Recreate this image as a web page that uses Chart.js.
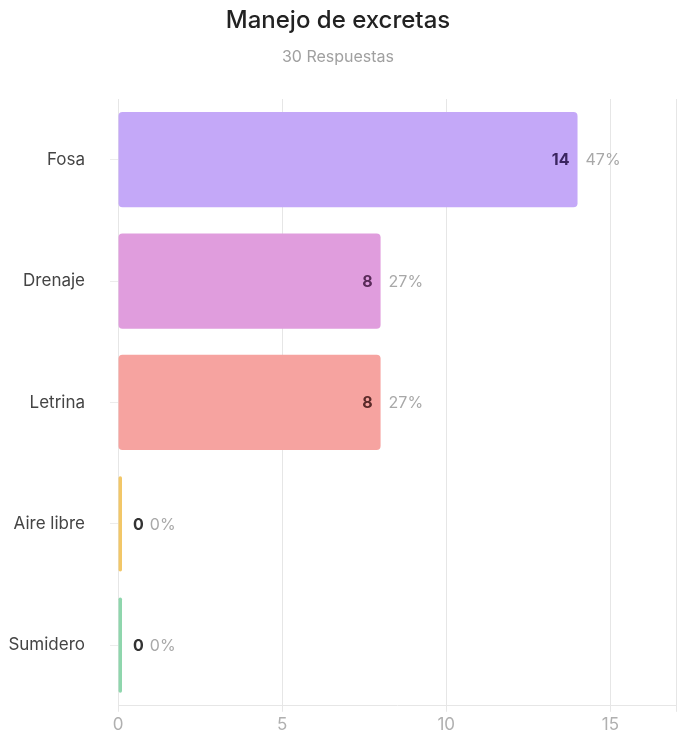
<!DOCTYPE html>
<html>
<head>
<meta charset="utf-8">
<script src="https://cdn.jsdelivr.net/npm/chart.js@4.4.1/dist/chart.umd.min.js"></script>
<style>
  html, body { margin: 0; padding: 0; background: #fff; overflow: hidden; }
  #wrap { width: 683px; height: 741px; }
</style>
</head>
<body>
<div id="wrap"><canvas id="myChart"></canvas></div>
<script>
const categorias = ["Fosa", "Drenaje", "Letrina", "Aire libre", "Sumidero"];
const respuestas = [14, 8, 8, 0, 0];
const porcentajes = ["47%", "27%", "27%", "0%", "0%"];
const tickValores = [0, 5, 10, 15, 17];
const totalRespuestas = 30;

const colores = ["#c4a8f8", "#e09ddd", "#f6a3a0", "#f2c768", "#8fd6ad"];
const coloresTexto = ["#3b2560", "#5a2a58", "#5a2a2a", "#333333", "#333333"];

// etiquetas de valor y porcentaje
const etiquetasPlugin = {
  id: "etiquetas",
  afterDatasetsDraw(chart) {
    const ctx = chart.ctx;
    const meta = chart.getDatasetMeta(0);
    ctx.save();
    ctx.textBaseline = "middle";
    meta.data.forEach((bar, i) => {
      const valor = respuestas[i];
      const fin = bar.x;
      ctx.font = "bold 16px Inter, 'Noto Sans', sans-serif";
      let xPct;
      if (valor > 0) {
        ctx.textAlign = "right";
        ctx.fillStyle = coloresTexto[i];
        ctx.fillText(String(valor), fin - 8, bar.y + 1);
        xPct = fin + 8;
      } else {
        ctx.textAlign = "left";
        ctx.fillStyle = coloresTexto[i];
        ctx.fillText(String(valor), fin + 11, bar.y + 1);
        xPct = fin + 11 + ctx.measureText(String(valor)).width + 6;
      }
      ctx.font = "16px Inter, 'Noto Sans', sans-serif";
      ctx.textAlign = "left";
      ctx.fillStyle = "#a8a8a8";
      ctx.fillText(porcentajes[i], xPct, bar.y + 1);
    });
    ctx.restore();
  }
};

const data = {
  labels: categorias,
  datasets: [
    {
      label: "Respuestas",
      data: respuestas,
      backgroundColor: colores,
      borderRadius: 4,
      borderSkipped: false,
      minBarLength: 4,
      categoryPercentage: 0.785,
      barPercentage: 1,
    },
  ],
};

const config = {
  type: "bar",
  data,
  options: {
    indexAxis: "y",
    responsive: true,
    maintainAspectRatio: false,
    animation: false,
    layout: { padding: { left: 0, right: 7, top: 0, bottom: 0 } },
    plugins: {
      legend: { display: false },
      tooltip: { enabled: false },
      title: {
        display: true,
        text: "Manejo de excretas",
        color: "#222",
        font: { family: "Inter, 'Noto Sans', sans-serif", size: 24, weight: "500" },
        padding: { top: 6, bottom: 13 },
      },
      subtitle: {
        display: true,
        text: totalRespuestas + " Respuestas",
        color: "#a0a0a0",
        font: { family: "Inter, 'Noto Sans', sans-serif", size: 16 },
        padding: { bottom: 32 },
      },
    },
    scales: {
      x: {
        min: 0,
        max: 17,
        afterBuildTicks(axis) {
          axis.ticks = tickValores.map((v) => ({ value: v }));
        },
        ticks: {
          color: "#b0b0b0",
          font: { family: "Inter, 'Noto Sans', sans-serif", size: 17 },
          padding: 3,
          callback: (v) => (v % 5 === 0 ? v : ""),
        },
        grid: { color: "#e6e6e6", tickLength: 6 },
        border: { color: "#e6e6e6" },
      },
      y: {
        afterFit(axis) {
          axis.width = 118;
        },
        ticks: {
          color: "#444",
          font: { family: "Inter, 'Noto Sans', sans-serif", size: 17 },
          padding: 25,
        },
        grid: { drawOnChartArea: false, offset: false, color: "#ececec", tickLength: 8 },
        border: { color: "#e6e6e6" },
      },
    },
  },
  plugins: [etiquetasPlugin],
};

const myChart = new Chart(document.getElementById("myChart"), config);
</script>
</body>
</html>
